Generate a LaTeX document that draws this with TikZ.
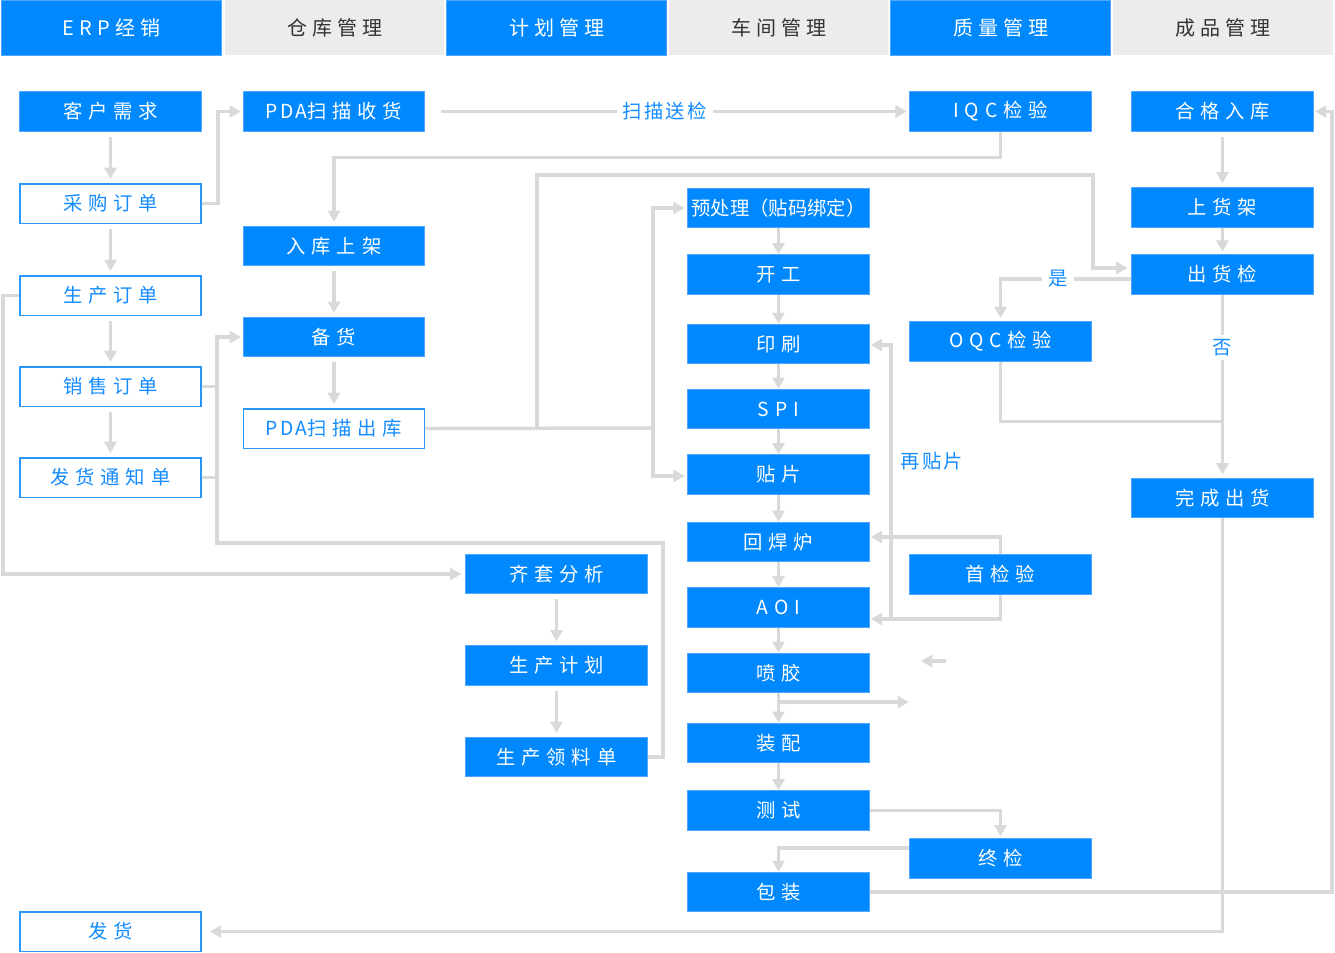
\documentclass[tikz,border=0pt]{standalone}
\usepackage{fontspec}
\newfontfamily\cjk[LetterSpace=30]{Noto Sans CJK SC}
\newfontfamily\cjkh[LetterSpace=25]{Noto Sans CJK SC}
\newfontfamily\cjks[LetterSpace=12]{Noto Sans CJK SC}
\newfontfamily\cjkn{Noto Sans CJK SC}
\usetikzlibrary{arrows.meta,backgrounds,calc}
\definecolor{bblue}{RGB}{0,137,255}
\definecolor{bedge}{RGB}{80,165,255}
\definecolor{oedge}{RGB}{40,150,255}
\definecolor{otext}{RGB}{20,140,255}
\definecolor{lgray}{RGB}{217,217,217}
\definecolor{hgray}{RGB}{236,236,236}
\definecolor{htext}{RGB}{51,51,51}
\newcommand{\latn}[1]{{\cjks #1}}
\tikzset{
  basebox/.style={minimum width=136pt, minimum height=29.6pt, inner sep=0pt, font=\cjk\fontsize{14.5}{16}\selectfont},
  fbox/.style={basebox, fill=bblue, draw=bedge, line width=0.6pt, text=white},
  obox/.style={basebox, fill=white, draw=oedge, line width=1.1pt, text=otext},
  nbox/.style={fbox, font=\cjkn\fontsize{14.5}{16}\selectfont},
  hbox/.style={minimum width=164.5pt, minimum height=41.25pt, inner sep=0pt, font=\cjkh\fontsize{15}{17}\selectfont},
  hblue/.style={hbox, fill=bblue, draw=bedge, line width=0.6pt, text=white},
  hgrey/.style={hbox, fill=hgray, text=htext},
  conn/.style={draw=lgray, line width=2.6pt},
  arr/.style={conn, -{Triangle[length=8.5pt,width=9pt]}},
  av/.style={arr, shorten <=3.7pt, shorten >=3pt},
  lbl/.style={text=otext, font=\cjks\fontsize{14.5}{16}\selectfont, fill=white, inner xsep=4.5pt, inner ysep=1pt},
  lblv/.style={lbl, inner xsep=1pt, inner ysep=3pt},
}
\begin{document}
\begin{tikzpicture}[x=0.75pt, y=-0.75pt]
\useasboundingbox (0,0) rectangle (1335,953);
% header
\node[hblue] (h1) at (111.5,27.5) {ERP经销};
\node[hgrey] (h2) at (334.5,27.5) {仓库管理};
\node[hblue] (h3) at (556.5,27.5) {计划管理};
\node[hgrey] (h4) at (778.5,27.5) {车间管理};
\node[hblue] (h5) at (1000.5,27.5) {质量管理};
\node[hgrey] (h6) at (1223,27.5) {成品管理};
% column 1
\node[fbox] (kh) at (110.5,111.5) {客户需求};
\node[obox] (cg) at (110.5,203.5) {采购订单};
\node[obox] (sc) at (110.5,295.5) {生产订单};
\node[obox] (xs) at (110.5,386.5) {销售订单};
\node[obox] (fh) at (110.5,477.5) {发货通知单};
\node[obox] (fa) at (110.5,931.5) {发货};
% column 2
\node[fbox] (sh) at (334,111.5) {\latn{PDA}扫描收货};
\node[fbox] (rk) at (334,246) {入库上架};
\node[fbox] (bh) at (334,337) {备货};
\node[obox] (ck) at (334,428.5) {\latn{PDA}扫描出库};
% column 3
\node[fbox] (qt) at (556.5,574) {齐套分析};
\node[fbox] (jh) at (556.5,665.5) {生产计划};
\node[fbox] (ll) at (556.5,757) {生产领料单};
% column 4
\node[nbox] (yc) at (778.5,208) {预处理（贴码绑定）};
\node[fbox] (kg) at (778.5,274.5) {开工};
\node[fbox] (ys) at (778.5,344) {印刷};
\node[fbox] (spi) at (778.5,409) {SPI};
\node[fbox] (tp) at (778.5,474.5) {贴片};
\node[fbox] (hh) at (778.5,542) {回焊炉};
\node[fbox] (aoi) at (778.5,607.5) {AOI};
\node[fbox] (pj) at (778.5,673) {喷胶};
\node[fbox] (zp) at (778.5,743) {装配};
\node[fbox] (cs) at (778.5,810.5) {测试};
\node[fbox] (bz) at (778.5,892) {包装};
% column 5
\node[fbox] (iqc) at (1000.5,111.5) {IQC检验};
\node[fbox] (oqc) at (1000.5,341.5) {OQC检验};
\node[fbox] (sj) at (1000.5,574.5) {首检验};
\node[fbox] (zj) at (1000.5,858.5) {终检};
% column 6
\node[fbox] (hg) at (1222.5,111.5) {合格入库};
\node[fbox] (shj) at (1222.5,207.5) {上货架};
\node[fbox] (chj) at (1222.5,274.5) {出货检};
\node[fbox] (wc) at (1222.5,498) {完成出货};
% label
\node[text=otext, font=\cjks\fontsize{14.5}{16}\selectfont] (lbz) at (932,461) {再贴片};
% junction coordinates
\coordinate (jx) at (217,543);
\coordinate (jp) at (653,428);
\coordinate (jq) at (537,428);
\coordinate (jt) at (1093,175);
\coordinate (jb) at (663,543);
\coordinate (pjb) at (778.5,702);
\coordinate (pje) at (909,702);
\coordinate (st1) at (946,661);
\coordinate (st2) at (921,661);
\coordinate (jo) at (1222.5,421.5);
\coordinate (js1) at (1000.5,537);
\coordinate (js2) at (1000.5,619);
\coordinate (jr1) at (891,619);
\coordinate (jr2) at (891,345);
\begin{scope}[on background layer]
% column 1
\draw[av] (kh) -- (cg);
\draw[av] (cg) -- (sc);
\draw[av] (sc) -- (xs);
\draw[av] (xs) -- (fh);
\draw[arr, shorten >=1.5pt] (cg.east) -- ++(16,0) |- (sh.west);
\draw[arr, shorten <=12pt, shorten >=2pt] (sh.east) -- node[lbl, pos=0.495] (lsj) {扫描送检} (iqc.west);
\draw[arr, shorten >=3pt] (iqc.south) -- ++(0,26) -| (rk.north);
\draw[av] (rk) -- (bh);
\draw[av] (bh) -- (ck);
% bracket to stock preparation
\draw[arr, shorten >=1.5pt] (ll.east) -| (jb) -- (jx) |- (bh.west);
\draw[conn] (xs.east) -- (xs.east -| jx);
\draw[conn] (fh.east) -- (fh.east -| jx);
% production order loop
\draw[arr, shorten >=3pt] (sc.west) -- ++(-16,0) |- (qt.west);
\draw[av] (qt) -- (jh);
\draw[av] (jh) -- (ll);
% PDA out
\draw[conn] (ck.east) -- (jp);
\draw[arr, shorten >=2pt] (jp) |- (yc.west);
\draw[arr, shorten >=2pt] (jp) |- ([yshift=-1.1pt]tp.west);
\draw[arr, shorten >=3pt] (jq) |- (jt) |- ([yshift=4.9pt]chj.west);
% workshop chain
\draw[arr] (yc) -- (kg);
\draw[arr] (kg) -- (ys);
\draw[arr] (ys) -- (spi);
\draw[arr] (spi) -- (tp);
\draw[arr] (tp) -- (hh);
\draw[arr] (hh) -- (aoi);
\draw[arr] (aoi) -- (pj);
\draw[arr] (pj) -- (zp);
\draw[arr] (zp) -- (cs);
\draw[arr] (pjb) -- (pje);
\draw[arr] (st1) -- (st2);
% test / final inspection / packing
\draw[arr, shorten >=1.5pt] (cs.east) -| (zj.north);
\draw[arr] ([yshift=7.9pt]zj.west) -| (bz.north);
\draw[arr, shorten >=1pt] (bz.east) -- ++(462.5,0) |- (hg.east);
% finished goods
\draw[av] (hg) -- (shj);
\draw[arr, shorten >=2pt] (shj) -- (chj);
\draw[arr, shorten >=2.5pt] ([yshift=-3.4pt]chj.west) -| node[lbl, pos=0.28] (lshi) {是} (oqc.north);
\draw[arr, shorten >=2.5pt] (chj) -- node[lblv, pos=0.29] (lfou) {否} (wc);
\draw[conn] (oqc.south) |- (jo);
\draw[arr, shorten >=6pt] (wc.south) |- (fa.east);
% first inspection / re-placement
\draw[arr, shorten >=1pt] (sj.north) -- (js1) -- (js1 -| hh.east);
\draw[arr, shorten >=1pt] (sj.south) -- (js2) -- (js2 -| aoi.east);
\draw[arr, shorten >=1pt] (jr1) -- (jr2) -- (jr2 -| ys.east);
\end{scope}
\end{tikzpicture}
\end{document}
